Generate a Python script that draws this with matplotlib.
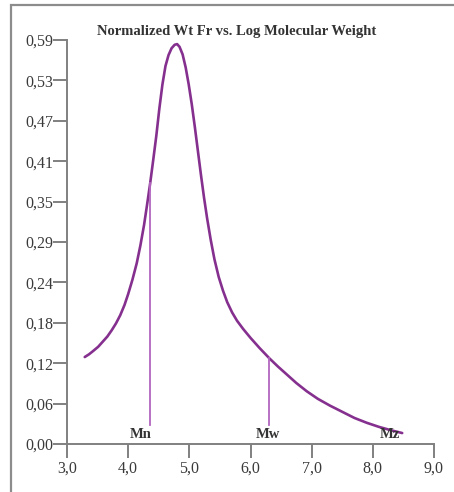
import numpy as np
import matplotlib.pyplot as plt
from matplotlib.patches import Rectangle

# -------------------------------------------------------
# DATA
# -------------------------------------------------------
log_mw = [3.29, 3.36, 3.43, 3.51, 3.59, 3.66, 3.73, 3.80, 3.87, 3.94, 4.00,
          4.07, 4.14, 4.20, 4.26, 4.31, 4.36, 4.41, 4.46, 4.51, 4.56, 4.61,
          4.66, 4.71, 4.76, 4.80, 4.84, 4.89, 4.94, 4.99, 5.04, 5.09, 5.14,
          5.19, 5.24, 5.29, 5.35, 5.41, 5.48, 5.55, 5.62, 5.70, 5.78, 5.88,
          6.00, 6.15, 6.31, 6.45, 6.60, 6.75, 6.92, 7.10, 7.30, 7.50, 7.70,
          7.90, 8.10, 8.30, 8.48]
wt_fr = [0.127, 0.131, 0.136, 0.142, 0.150, 0.157, 0.166, 0.176, 0.188, 0.203, 0.219,
         0.240, 0.264, 0.290, 0.320, 0.350, 0.381, 0.415, 0.450, 0.490, 0.525, 0.552,
         0.568, 0.578, 0.583, 0.584, 0.580, 0.569, 0.550, 0.525, 0.496, 0.463, 0.428,
         0.393, 0.360, 0.330, 0.298, 0.270, 0.244, 0.224, 0.207, 0.192, 0.180, 0.168,
         0.155, 0.140, 0.125, 0.113, 0.101, 0.089, 0.077, 0.066, 0.056, 0.047, 0.038,
         0.031, 0.025, 0.020, 0.016]

marker_names = ["Mn", "Mw", "Mz"]
marker_x = [4.36, 6.31, 8.30]
marker_top = [0.381, 0.125, None]   # Mz has no drop line
marker_bottom = 0.028

y_ticks = [i * 0.059 for i in range(11)]
y_labels = ["0,00", "0,06", "0,12", "0,18", "0,24", "0,29", "0,35", "0,41", "0,47", "0,53", "0,59"]
x_ticks = [3, 4, 5, 6, 7, 8, 9]
x_labels = ["3,0", "4,0", "5,0", "6,0", "7,0", "8,0", "9,0"]

# -------------------------------------------------------
# FIGURE
# -------------------------------------------------------
plt.rcParams['font.family'] = ['Liberation Serif', 'DejaVu Serif']
W, H = 454, 492
fig = plt.figure(figsize=(W / 100, H / 100), dpi=100)

# outer frame (cut at the right/bottom edge)
fig.patches.append(Rectangle((11 / W, -0.1), 1.2, 1 - 5 / H + 0.1, transform=fig.transFigure,
                             fill=False, edgecolor="#8c8c8c", linewidth=1.6))

ax = fig.add_axes([67 / W, (H - 444) / H, (434 - 67) / W, (444 - 40) / H])
ax.set_xlim(3, 9)
ax.set_ylim(0, 0.59)
ax.patch.set_alpha(0)

curve_col = "#85308f"
line_col = "#b366c0"
ax.plot(log_mw, wt_fr, color=curve_col, linewidth=1.9, solid_capstyle="round",
        solid_joinstyle="round", clip_on=False)

for name, xm, top in zip(marker_names, marker_x, marker_top):
    if top is not None:
        ax.plot([xm, xm], [marker_bottom, top], color=line_col, linewidth=1.3)

label_offsets = [-0.15, -0.03, -0.02]
for name, xm, dx in zip(marker_names, marker_x, label_offsets):
    ax.text(xm + dx, 0.004, name, ha="center", va="bottom", fontsize=10.5,
            fontweight="bold", color="#333333")

for side in ["top", "right"]:
    ax.spines[side].set_visible(False)
for side in ["left", "bottom"]:
    ax.spines[side].set_color("#808080")
    ax.spines[side].set_linewidth(1.4)

ax.set_yticks(y_ticks)
ax.set_yticklabels(y_labels)
ax.set_xticks(x_ticks)
ax.set_xticklabels(x_labels)
ax.tick_params(axis="both", direction="out", length=10, width=1.4, color="#808080",
               labelsize=11.5, labelcolor="#3a3a3a")
ax.tick_params(axis="y", pad=0)
ax.tick_params(axis="x", pad=2)

fig.text(237 / W, 1 - 32 / H, "Normalized Wt Fr vs. Log Molecular Weight",
         ha="center", va="center", fontsize=10.5, fontweight="bold", color="#333333")

fig.savefig("out.png", dpi=100)
